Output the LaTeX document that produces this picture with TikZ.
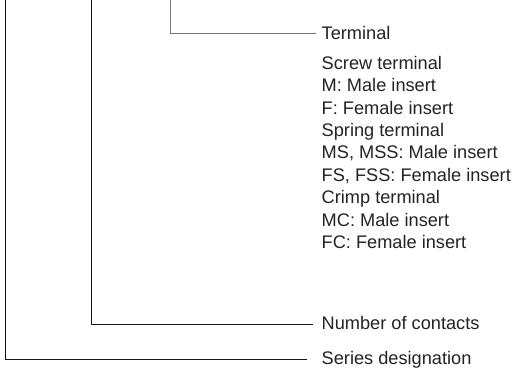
\documentclass[tikz,border=0pt]{standalone}
\usepackage{fontspec}
\setmainfont{Liberation Sans}
\definecolor{txt}{RGB}{35,35,35}
\definecolor{lead}{RGB}{20,20,20}
\definecolor{leadgray}{RGB}{120,120,120}
\begin{document}
\begin{tikzpicture}[x=1pt,y=-1pt,
  lbl/.style={anchor=base west,inner sep=0pt,text=txt,font=\fontsize{18.2}{22.4}\selectfont},
  leader/.style={draw=lead,line width=1pt},
  leadergray/.style={draw=leadgray,line width=1pt}]
\useasboundingbox (0,0) rectangle (512,372);
% top ends of leaders
\coordinate (s0) at (5.5,0);
\coordinate (c0) at (91.5,0);
\coordinate (t0) at (170.7,0);
% labels
\node[lbl] (term) at (321.5,39) {Terminal};
\node[lbl] (l1) at (321.5,69.3) {Screw terminal};
\node[lbl] (l2) at (321.5,91.7) {M:~Male insert};
\node[lbl] (l3) at (321.5,114.1) {F: Female insert};
\node[lbl] (l4) at (321.5,136.5) {Spring terminal};
\node[lbl] (l5) at (321.5,158.9) {MS, MSS: Male insert};
\node[lbl] (l6) at (321.5,181.3) {FS, FSS: Female insert};
\node[lbl] (l7) at (321.5,203.7) {Crimp terminal};
\node[lbl] (l8) at (321.5,226.1) {MC: Male insert};
\node[lbl] (l9) at (321.5,248.5) {FC: Female insert};
\node[lbl] (cont) at (321.5,329.3) {Number of contacts};
\node[lbl] (ser) at (321.5,364) {Series designation};
% connectors
\draw[leadergray] (t0) |- ([xshift=-5.5pt,yshift=5.3pt]term.base west);
\draw[leader] (c0) |- ([xshift=-8.5pt,yshift=5.3pt]cont.base west);
\draw[leader] (s0) |- ([xshift=-14.5pt,yshift=4.5pt]ser.base west);
\end{tikzpicture}
\end{document}
